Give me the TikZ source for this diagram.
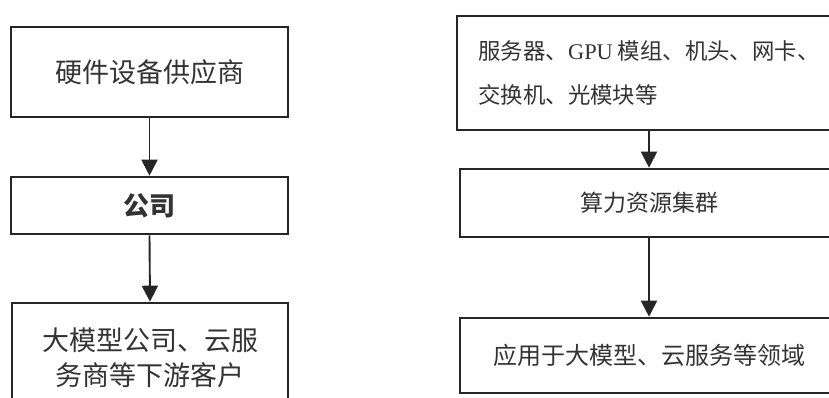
\documentclass[tikz,border=0pt]{standalone}
\usepackage{fontspec}
\setmainfont{Liberation Serif}
\newfontfamily\cjk{Noto Sans CJK SC}
\newfontfamily\lat{Liberation Serif}
\usetikzlibrary{arrows.meta}
\begin{document}
\begin{tikzpicture}[x=1pt,y=1pt,
  box/.style={draw=black!85, line width=2.6pt, inner sep=0pt, text=black!80, font=\cjk},
  arr/.style={draw=black!85, line width=1.9pt, -{Triangle[length=16pt,width=16pt]}}]
\useasboundingbox (0,0) rectangle (829,-397);
\clip (0,0) rectangle (829,-397);
\node[box, minimum width=277pt, minimum height=90pt, font=\cjk\fontsize{27pt}{32pt}\selectfont] (l1) at (149.5,-72) {硬件设备供应商};
\node[box, minimum width=277pt, minimum height=57pt, font=\cjk\bfseries\fontsize{26pt}{30pt}\selectfont] (l2) at (149.5,-205.5) {公司};
\node[box, minimum width=276pt, minimum height=110pt, align=center, font=\cjk\fontsize{27pt}{35pt}\selectfont] (l3) at (150,-358) {大模型公司、云服\\务商等下游客户};
\node[box, minimum width=384pt, minimum height=114pt, align=left, font=\cjk\fontsize{22.4pt}{44pt}\selectfont] (r1) at (649,-73) {服务器、{\lat GPU} 模组、机头、网卡、\\交换机、光模块等};
\node[box, minimum width=378pt, minimum height=68pt, font=\cjk\fontsize{23pt}{28pt}\selectfont] (r2) at (649,-203) {算力资源集群};
\node[box, minimum width=378pt, minimum height=75pt, font=\cjk\fontsize{24pt}{28pt}\selectfont] (r3) at (649,-355.5) {应用于大模型、云服务等领域};
\draw[arr] (l1.south) -- (l2.north);
\draw[arr] (l2.south) -- (l3.north);
\draw[arr] (r1.south) -- (r2.north);
\draw[arr] (r2.south) -- (r3.north);
\end{tikzpicture}
\end{document}
